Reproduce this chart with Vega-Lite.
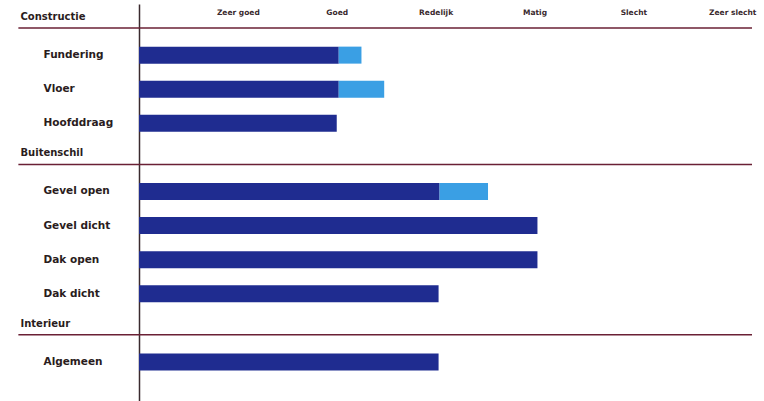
{
  "$schema": "https://vega.github.io/schema/vega-lite/v6.json",
  "autosize": "none",
  "width": 613,
  "height": 409,
  "padding": {"left": 139, "top": 4, "right": 12, "bottom": 0},
  "background": "white",
  "config": {"view": {"stroke": null}, "font": "DejaVu Sans"},
  "layer": [
    {
      "data": {"values": [
        {"item": "Fundering", "part": "basis", "value": 2.02},
        {"item": "Fundering", "part": "extra", "value": 0.23},
        {"item": "Vloer", "part": "basis", "value": 2.02},
        {"item": "Vloer", "part": "extra", "value": 0.46},
        {"item": "Hoofddraag", "part": "basis", "value": 2.0},
        {"item": "Gevel open", "part": "basis", "value": 3.04},
        {"item": "Gevel open", "part": "extra", "value": 0.49},
        {"item": "Gevel dicht", "part": "basis", "value": 4.03},
        {"item": "Dak open", "part": "basis", "value": 4.03},
        {"item": "Dak dicht", "part": "basis", "value": 3.03},
        {"item": "Algemeen", "part": "basis", "value": 3.03}
      ]},
      "mark": {"type": "bar", "size": 17},
      "encoding": {
        "y": {
          "field": "item", "type": "nominal",
          "scale": {"domain": ["Constructie", "Fundering", "Vloer", "Hoofddraag", "Buitenschil", "Gevel open", "Gevel dicht", "Dak open", "Dak dicht", "Interieur", "Algemeen", " "], "paddingInner": 0, "paddingOuter": 0},
          "axis": {
            "title": null, "ticks": false, "tickSize": 0,
            "domain": true, "domainColor": "#3a2a2e", "domainWidth": 1.5,
            "labelAlign": "left",
            "labelBaseline": "middle",
            "labelPadding": {"expr": "indexof(['Constructie','Buitenschil','Interieur'], datum.value) >= 0 ? 119 : 96"},
            "labelOffset": {"expr": "indexof(['Constructie','Buitenschil','Interieur'], datum.value) >= 0 ? -4 : 0"},
            "labelFontSize": {"expr": "indexof(['Constructie','Buitenschil','Interieur'], datum.value) >= 0 ? 10 : 10.5"},
            "labelFontWeight": "bold",
            "labelColor": "#2a1c20",
            "labelLimit": 200
          }
        },
        "x": {
          "field": "value", "type": "quantitative", "stack": "zero",
          "scale": {"domain": [0, 6.2], "nice": false, "zero": true},
          "axis": {
            "orient": "top", "title": null, "values": [1, 2, 3, 4, 5, 6],
            "labelExpr": "['', 'Zeer goed', 'Goed', 'Redelijk', 'Matig', 'Slecht', 'Zeer slecht'][datum.value]",
            "ticks": false, "domain": false, "grid": false,
            "offset": -14, "labelPadding": 2,
            "labelFontSize": 7.5, "labelFontWeight": "bold", "labelColor": "#3a2a2e",
            "labelFlush": false
          }
        },
        "color": {
          "field": "part", "type": "nominal",
          "scale": {"domain": ["basis", "extra"], "range": ["#1f2c90", "#3a9fe4"]},
          "legend": null
        },
        "order": {"field": "part"}
      }
    },
    {
      "data": {"values": [
        {"section": "Constructie"},
        {"section": "Buitenschil"},
        {"section": "Interieur"}
      ]},
      "mark": {"type": "rule", "color": "#6a2035", "strokeWidth": 1.5, "yOffset": 7},
      "encoding": {
        "y": {"field": "section", "type": "nominal"},
        "x": {"datum": -1.22},
        "x2": {"datum": 6.2}
      }
    }
  ]
}
